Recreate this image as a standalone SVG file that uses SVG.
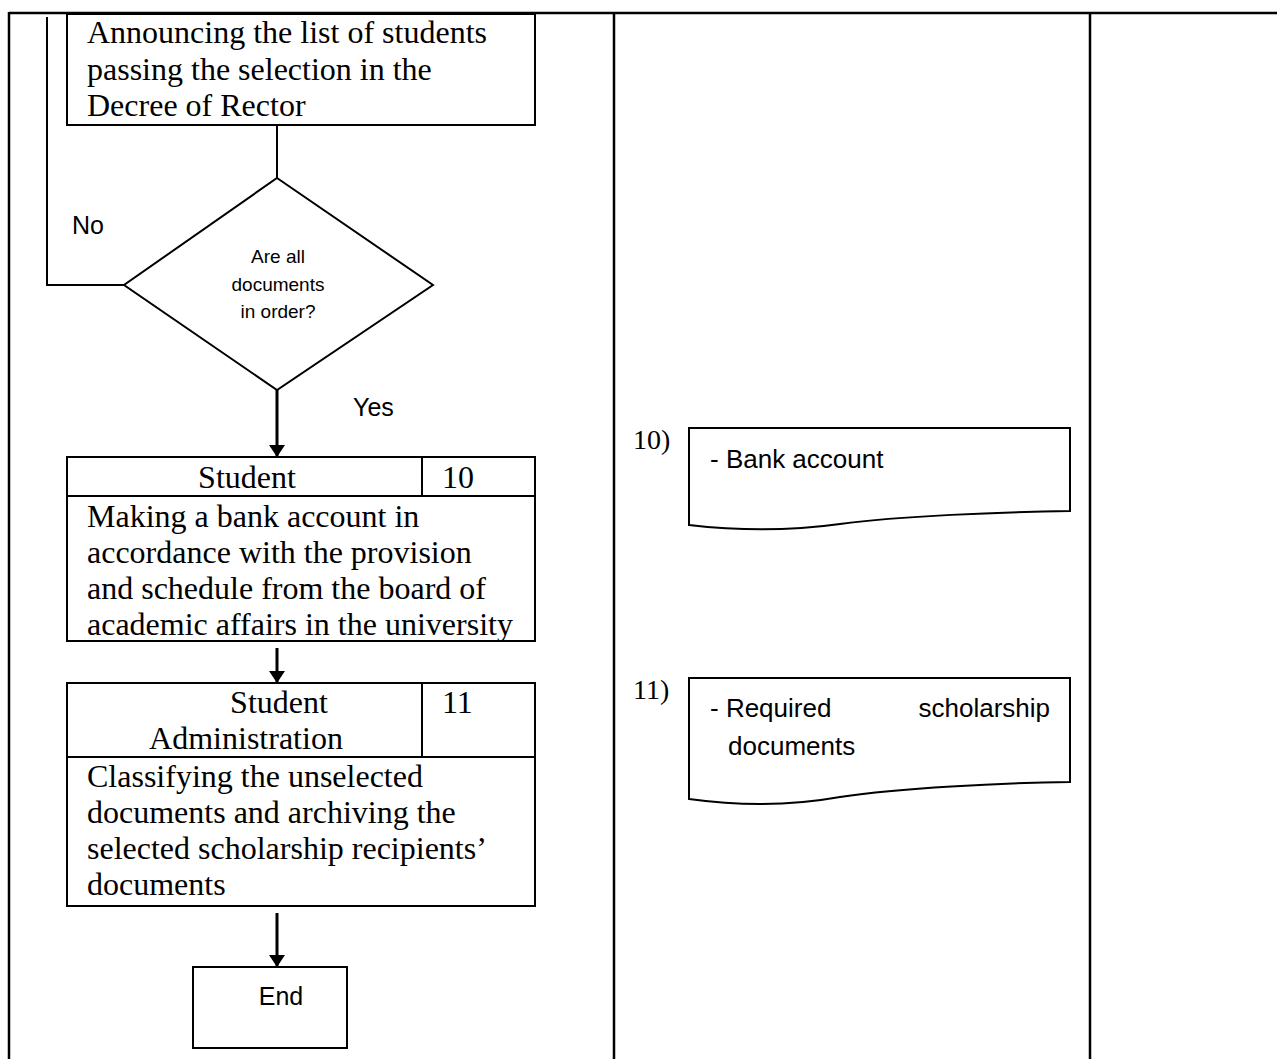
<svg xmlns="http://www.w3.org/2000/svg" width="1277" height="1059" viewBox="0 0 1277 1059">
<style>
.tbl{stroke:#000;stroke-width:2.5;fill:none}
.box{stroke:#000;stroke-width:2;fill:#fff}
.ln{stroke:#000;stroke-width:2;fill:none}
.arr{stroke:#000;stroke-width:3;fill:none}
.tm{font-family:"Liberation Serif","Times New Roman",serif;font-size:32px;fill:#000}
.num{font-family:"Liberation Serif","Times New Roman",serif;font-size:28px;fill:#000}
.lb{font-family:"Liberation Sans",Arial,sans-serif;font-size:25px;fill:#000}
.dc{font-family:"Liberation Sans",Arial,sans-serif;font-size:26px;fill:#000}
.sm{font-family:"Liberation Sans",Arial,sans-serif;font-size:19px;fill:#000}
</style>
<defs>
<marker id="ah" markerWidth="12" markerHeight="16" refX="12" refY="8" orient="auto" markerUnits="userSpaceOnUse" viewBox="0 0 12 16">
<path d="M0,0 L12,8 L0,16 Z" fill="#000"/>
</marker>
</defs>
<rect width="1277" height="1059" fill="#fff"/>
<g id="table">
<line class="tbl" x1="9" y1="13" x2="1277" y2="13"/>
<line class="tbl" x1="9" y1="12" x2="9" y2="1059"/>
<line class="tbl" x1="614" y1="12" x2="614" y2="1059"/>
<line class="tbl" x1="1090" y1="12" x2="1090" y2="1059"/>
</g>
<g id="connectors">
<polyline class="ln" points="47,17 47,285 124,285"/>
<line class="ln" x1="277" y1="125" x2="277" y2="178"/>
<line class="arr" x1="277" y1="390" x2="277" y2="457" marker-end="url(#ah)"/>
<line class="arr" x1="277" y1="648" x2="277" y2="683" marker-end="url(#ah)"/>
<line class="arr" x1="277" y1="913" x2="277" y2="967" marker-end="url(#ah)"/>
<text class="lb" x="72" y="234">No</text>
<text class="lb" x="353" y="416">Yes</text>
</g>
<g id="announce">
<rect class="box" x="67" y="14" width="468" height="111"/>
<text class="tm" x="87" y="43">Announcing the list of students</text>
<text class="tm" x="87" y="80">passing the selection in the</text>
<text class="tm" x="87" y="116">Decree of Rector</text>
</g>
<g id="decision">
<polygon class="box" points="277,178 433,285 277,390 124,285"/>
<text class="sm" x="278" y="263" text-anchor="middle">Are all</text>
<text class="sm" x="278" y="291" text-anchor="middle">documents</text>
<text class="sm" x="278" y="318" text-anchor="middle">in order?</text>
</g>
<g id="step10">
<rect class="box" x="67" y="457" width="468" height="184"/>
<line class="ln" x1="67" y1="496" x2="535" y2="496"/>
<line class="ln" x1="422" y1="457" x2="422" y2="496"/>
<text class="tm" x="247" y="488" text-anchor="middle">Student</text>
<text class="tm" x="442" y="488">10</text>
<text class="tm" x="87" y="527">Making a bank account in</text>
<text class="tm" x="87" y="563">accordance with the provision</text>
<text class="tm" x="87" y="599">and schedule from the board of</text>
<text class="tm" x="87" y="635">academic affairs in the university</text>
</g>
<g id="step11">
<rect class="box" x="67" y="683" width="468" height="223"/>
<line class="ln" x1="67" y1="757" x2="535" y2="757"/>
<line class="ln" x1="422" y1="683" x2="422" y2="757"/>
<text class="tm" x="279" y="713" text-anchor="middle">Student</text>
<text class="tm" x="246" y="749" text-anchor="middle">Administration</text>
<text class="tm" x="442" y="713">11</text>
<text class="tm" x="87" y="787">Classifying the unselected</text>
<text class="tm" x="87" y="823">documents and archiving the</text>
<text class="tm" x="87" y="859">selected scholarship recipients’</text>
<text class="tm" x="87" y="895">documents</text>
</g>
<g id="end">
<rect class="box" x="193" y="967" width="154" height="81"/>
<text class="lb" x="281" y="1005" text-anchor="middle">End</text>
</g>
<g id="doc10">
<text class="num" x="633" y="449">10)</text>
<path class="box" d="M689,428 L1070,428 L1070,511 C1000,512 900,516 840,524 C790,531 740,531 689,525 Z"/>
<text class="dc" x="710" y="468">-  Bank account</text>
</g>
<g id="doc11">
<text class="num" x="633" y="699">11)</text>
<path class="box" d="M689,678 L1070,678 L1070,782 C1000,783 900,788 840,797 C790,806 740,806 689,799 Z"/>
<text class="dc" x="710" y="717">-  Required</text>
<text class="dc" x="1050" y="717" text-anchor="end">scholarship</text>
<text class="dc" x="728" y="755">documents</text>
</g>
</svg>
